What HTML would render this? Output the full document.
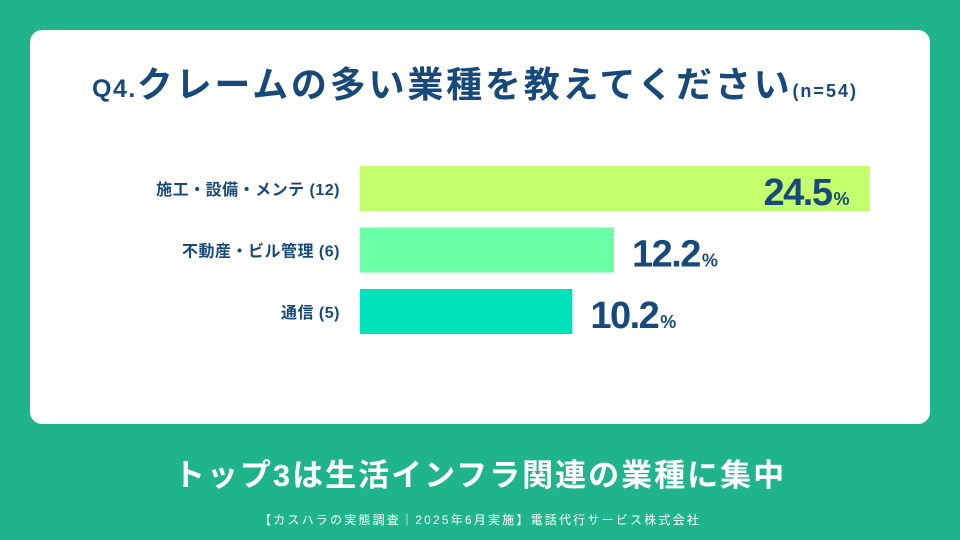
<!DOCTYPE html>
<html><head><meta charset="utf-8"><style>
body{margin:0;width:960px;height:540px;background:#1fb48b;position:relative;overflow:hidden;font-family:"Liberation Sans","Noto Sans CJK JP",sans-serif;}
.card{position:absolute;left:30px;top:30px;width:900px;height:394px;background:#fff;border-radius:12px;}
.t{position:absolute;white-space:nowrap;}
</style></head><body>
<div class="card"></div>
<div class="t" style="left:92px;top:56px;color:#17497a;font-weight:bold;font-size:36px;letter-spacing:2.8px;"><span style="font-size:25px;letter-spacing:1.5px">Q4.</span>クレームの多い業種を教えてください<span style="font-size:18px;letter-spacing:2px">(n=54)</span></div>
<svg id="chart" width="960" height="540" style="position:absolute;left:0;top:0"></svg>
<div class="t" style="left:0;width:960px;text-align:center;top:450px;color:#fff;font-weight:bold;font-size:31px;letter-spacing:2px;">トップ3は生活インフラ関連の業種に集中</div>
<div class="t" style="left:0;width:960px;text-align:center;top:511px;color:#fff;font-size:12px;letter-spacing:2.2px;">【カスハラの実態調査｜2025年6月実施】電話代行サービス株式会社</div>
<script>
const categories=["施工・設備・メンテ (12)","不動産・ビル管理 (6)","通信 (5)"];
const values=[24.5,12.2,10.2];
const colors=["#c4ff6e","#6bffa6","#00e2bc"];
const svg=document.getElementById('chart');
const NS="http://www.w3.org/2000/svg";
const x0=360, pxPer=510/24.5;
const xs=v=>x0+v*pxPer;
const ys=i=>166+i*61.5;
categories.forEach((c,i)=>{
  const r=document.createElementNS(NS,'rect');
  r.setAttribute('x',x0);r.setAttribute('y',ys(i));
  r.setAttribute('width',xs(values[i])-x0);r.setAttribute('height',45);
  r.setAttribute('fill',colors[i]);
  
  
  svg.appendChild(r);
  const l=document.createElementNS(NS,'text');
  l.setAttribute('x',340);l.setAttribute('y',ys(i)+29);
  l.setAttribute('text-anchor','end');l.setAttribute('font-size','16');
  l.setAttribute('letter-spacing','0.5');
  l.setAttribute('font-weight','bold');l.setAttribute('fill','#17497a');
  l.textContent=c;
  
  
  svg.appendChild(l);
  const t=document.createElementNS(NS,'text');
  const inside=i===0;
  const tx=inside?xs(values[i])-22:xs(values[i])+18;
  t.setAttribute('x',tx);t.setAttribute('y',ys(i)+39);
  t.setAttribute('text-anchor',inside?'end':'start');
  t.setAttribute('font-weight','bold');t.setAttribute('fill','#17497a');
  t.setAttribute('font-size','38');t.setAttribute('letter-spacing','-1.5');
  t.innerHTML=values[i].toFixed(1)+'<tspan font-size="18" dx="2">%</tspan>';
  
  
  svg.appendChild(t);
});
</script>
</body></html>
